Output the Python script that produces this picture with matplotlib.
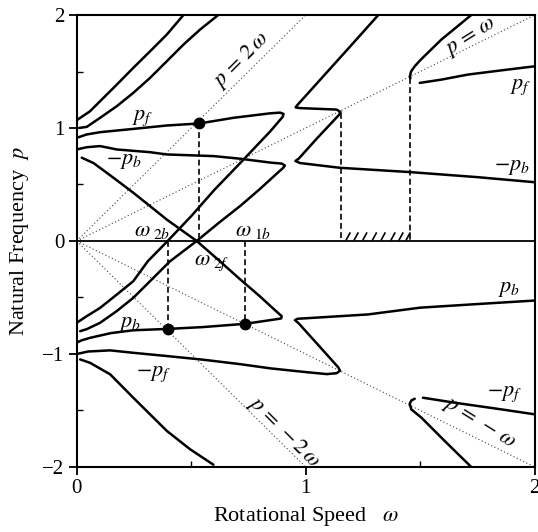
import numpy as np
import matplotlib
matplotlib.use('Agg')
import matplotlib.pyplot as plt
from matplotlib.ticker import MultipleLocator

plt.rcParams['font.family'] = ['Liberation Serif', 'DejaVu Serif']
plt.rcParams['mathtext.fontset'] = 'stix'

# branches as (omega, p) points
curve_a = [(0.0, 1.069), (0.058, 1.148), (0.102, 1.237), (0.175, 1.384), (0.247, 1.532),
           (0.32, 1.678), (0.393, 1.826), (0.466, 2.0)]
curve_b = [(0.01, 1.0), (0.044, 1.01), (0.102, 1.09), (0.175, 1.193), (0.247, 1.311),
           (0.32, 1.443), (0.393, 1.59), (0.466, 1.738), (0.538, 1.87), (0.618, 2.0)]
# p_f (upper) turning into the rising line through omega_2b
curve_pf = [(0.0, 0.913), (0.044, 0.943), (0.102, 0.963), (0.247, 0.992), (0.393, 1.022),
            (0.535, 1.04), (0.684, 1.09), (0.845, 1.13), (0.888, 1.136), (0.903, 1.125),
            (0.9, 1.1), (0.845, 0.97), (0.714, 0.69), (0.6, 0.45), (0.5, 0.22), (0.397, 0.0),
            (0.31, -0.18), (0.247, -0.356), (0.175, -0.474), (0.102, -0.592), (0.044, -0.665),
            (0.0, -0.724)]
# lower rising line turning into -p_b (upper)
curve_mpb = [(0.015, -0.798), (0.044, -0.78), (0.102, -0.724), (0.175, -0.62), (0.247, -0.503),
             (0.32, -0.356), (0.407, -0.18), (0.524, 0.0), (0.62, 0.16), (0.714, 0.31),
             (0.80, 0.46), (0.87, 0.59), (0.902, 0.648), (0.909, 0.668), (0.895, 0.685),
             (0.845, 0.694), (0.714, 0.728), (0.6, 0.751), (0.393, 0.766), (0.32, 0.786),
             (0.175, 0.81), (0.102, 0.84), (0.044, 0.83), (0.0, 0.81)]
# falling line through omega_2f turning into p_b (lower)
curve_pb = [(0.022, 0.737), (0.073, 0.69), (0.131, 0.604), (0.189, 0.516), (0.247, 0.427),
            (0.32, 0.309), (0.393, 0.19), (0.524, 0.0), (0.62, -0.17), (0.714, -0.34),
            (0.80, -0.49), (0.87, -0.62), (0.895, -0.665), (0.893, -0.685), (0.87, -0.693),
            (0.735, -0.733), (0.55, -0.762), (0.397, -0.778), (0.247, -0.79), (0.15, -0.815),
            (0.058, -0.857), (0.02, -0.88), (0.0, -0.9)]
# -p_f (lower), zig back up and continue as p_b to the right
curve_mpf = [(0.0, -1.0), (0.05, -0.978), (0.146, -0.968), (0.25, -0.99), (0.393, -1.018),
             (0.55, -1.05), (0.714, -1.09), (0.845, -1.127), (1.0, -1.16), (1.092, -1.178),
             (1.135, -1.17), (1.15, -1.148), (1.142, -1.118), (1.05, -0.91), (0.97, -0.73),
             (0.953, -0.7), (0.965, -0.688), (1.0, -0.684), (1.272, -0.65), (1.5, -0.59),
             (1.75, -0.558), (2.0, -0.527)]
# upper zig from the top edge, continuing as -p_b to the right
curve_z = [(1.317, 2.0), (1.2, 1.735), (1.1, 1.51), (1.0, 1.285), (0.962, 1.2), (0.956, 1.182),
           (0.975, 1.176), (1.05, 1.17), (1.135, 1.163), (1.152, 1.142), (1.145, 1.115),
           (1.05, 0.91), (0.97, 0.73), (0.955, 0.708), (0.975, 0.69), (1.148, 0.648),
           (1.454, 0.61), (1.75, 0.565), (2.0, 0.52)]
curve_ur = [(1.723, 2.0), (1.592, 1.782), (1.5, 1.6), (1.476, 1.546), (1.46, 1.5),
            (1.455, 1.46), (1.457, 1.44)]
curve_pf_r = [(1.498, 1.399), (1.592, 1.428), (1.709, 1.473), (1.854, 1.51), (2.0, 1.546)]
curve_lr = [(1.723, -2.0), (1.607, -1.77), (1.505, -1.563), (1.461, -1.49), (1.454, -1.44),
            (1.462, -1.41), (1.476, -1.396)]
curve_mpf_r = [(1.512, -1.387), (1.65, -1.431), (1.854, -1.49), (2.0, -1.534)]
curve_d = [(0.015, -1.048), (0.058, -1.078), (0.146, -1.18), (0.247, -1.387), (0.393, -1.68),
           (0.495, -1.843), (0.597, -1.98)]

branches = [curve_a, curve_b, curve_pf, curve_mpb, curve_pb, curve_mpf, curve_z,
            curve_ur, curve_pf_r, curve_lr, curve_mpf_r, curve_d]

ray_slopes = [2, 1, -1, -2]

# marked points and the dashed drop lines (omega, p_from, p_to)
dots = [(0.535, 1.04), (0.397, -0.78), (0.735, -0.735)]
drops = [(0.535, 1.04, 0.0), (0.397, 0.0, -0.78), (0.735, 0.0, -0.735),
         (1.154, 1.13, 0.0), (1.455, 1.443, 0.0)]
hatch_x = [1.185, 1.22, 1.258, 1.30, 1.338, 1.381, 1.416, 1.447]

fig = plt.figure(figsize=(5.38, 5.32), dpi=100)
ax = fig.add_axes([0.1426, 0.1222, 0.8513, 0.8496])

for k in ray_slopes:
    w_end = min(2.0, 2.0 / abs(k))
    ax.plot([0, w_end], [0, k * w_end], color='#444444', lw=0.8,
            linestyle=(0, (1, 2.2)))

ax.axhline(0, color='black', lw=1.3)

for br in branches:
    w, p = zip(*br)
    ax.plot(w, p, color='black', lw=1.8, solid_capstyle='round', solid_joinstyle='round')

for w, p0, p1 in drops:
    ax.plot([w, w], [p0, p1], color='black', lw=1.2, linestyle=(0, (3.5, 2)))

for w in hatch_x:
    ax.plot([w - 0.008, w + 0.008], [0.01, 0.07], color='black', lw=1.2)

for w, p in dots:
    ax.plot(w, p, 'o', color='black', ms=7.5)

lab = dict(fontsize=16, ha='center', va='center')
ax.text(0.29, 1.09, '$p_f$', **lab)
ax.text(0.205, 0.70, '$-p_b$', **lab)
ax.text(0.33, 0.085, r'$\omega_{\ 2b}$', **lab)
ax.text(0.77, 0.08, r'$\omega_{\ 1b}$', **lab)
ax.text(0.59, -0.20, r'$\omega_{\ 2f}$', **lab)
ax.text(0.235, -0.74, '$p_b$', **lab)
ax.text(0.335, -1.18, '$-p_f$', **lab)
ax.text(1.94, 1.36, '$p_f$', **lab)
ax.text(1.90, 0.65, '$-p_b$', **lab)
ax.text(1.89, -0.43, '$p_b$', **lab)
ax.text(1.87, -1.36, '$-p_f$', **lab)
ax.text(0.72, 1.60, r'$p\,=\,2\,\omega$', rotation=45, **lab)
ax.text(1.725, 1.80, r'$p\,=\,\omega$', rotation=32, **lab)
ax.text(1.755, -1.62, r'$p\,=\,-\,\omega$', rotation=-32, **lab)
ax.text(0.905, -1.69, r'$p\,=\,-2\,\omega$', rotation=-45, **lab)

ax.set_xlim(0, 2)
ax.set_ylim(-2, 2)
ax.xaxis.set_major_locator(MultipleLocator(1))
ax.xaxis.set_minor_locator(MultipleLocator(0.5))
ax.yaxis.set_minor_locator(MultipleLocator(0.5))
ax.set_yticks([-2, -1, 0, 1, 2])
ax.set_yticklabels(['\u22122', '\u22121', '0', '1', '2'])
ax.tick_params(which='major', direction='out', length=6, width=1.3, labelsize=15, pad=3)
ax.tick_params(which='minor', direction='in', length=4, width=1.0)
for s in ax.spines.values():
    s.set_linewidth(1.5)

ax.set_xlabel('Rotational Speed   $\\omega$', fontsize=16, labelpad=5)
ax.set_ylabel('Natural Frequency  $p$', fontsize=16, labelpad=8)

fig.savefig('out.png', dpi=100)
